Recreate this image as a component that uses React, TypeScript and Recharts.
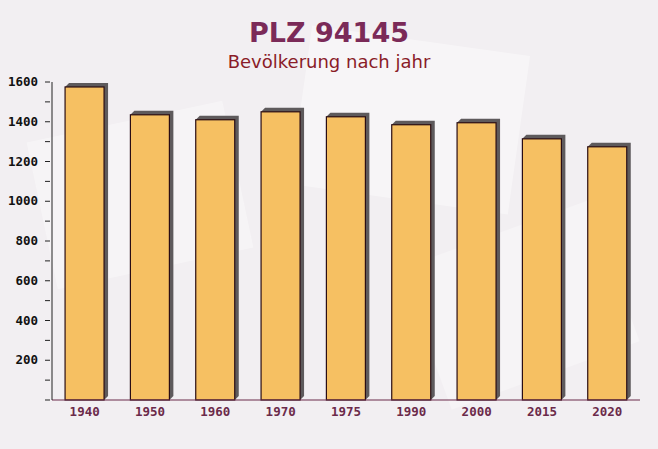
import React from 'react';
import { BarChart, Bar, XAxis, YAxis } from 'recharts';

const years = ['1940', '1950', '1960', '1970', '1975', '1990', '2000', '2015', '2020'];
const population = [1575, 1435, 1410, 1450, 1425, 1385, 1395, 1314, 1274];
const yTicks = [0, 100, 200, 300, 400, 500, 600, 700, 800, 900, 1000, 1100, 1200, 1300, 1400, 1500, 1600];

const data = years.map((year, i) => ({ year, value: population[i] }));

const Bar3D = (props: any) => {
  const { x, y, width, height } = props;
  const d = 4;
  const shadow = `M${x},${y} L${x + d},${y - d} L${x + width + d},${y - d} L${x + width + d},${y + height - d} L${x + width},${y + height} Z`;
  return (
    <g>
      <path d={shadow} fill="#5e5a5c" />
      <rect x={x} y={y} width={width} height={height} fill="#f6c062" stroke="#2a0d14" strokeWidth={1.2} />
    </g>
  );
};

const YTick = (props: any) => {
  const { x, y, payload } = props;
  const major = payload.value % 200 === 0;
  return (
    <g>
      <line x1={x + 1} x2={x + 6} y1={y} y2={y} stroke="#222" />
      {major && payload.value > 0 && (
        <text x={x - 6} y={y} dy={4} textAnchor="end" fontFamily="DejaVu Sans Mono" fontWeight="bold" fontSize={12.5} fill="#111">
          {payload.value}
        </text>
      )}
    </g>
  );
};

const App: React.FC = () => {
  return (
    <div style={{ position: 'absolute', left: 0, top: 0, width: 658, height: 449, background: '#f2eff2', overflow: 'hidden' }}>
      <div style={{ position: 'absolute', left: 40, top: 120, width: 200, height: 150, background: 'rgba(255,255,255,0.35)', transform: 'rotate(-12deg)' }} />
      <div style={{ position: 'absolute', left: 300, top: 40, width: 220, height: 160, background: 'rgba(255,255,255,0.4)', transform: 'rotate(8deg)' }} />
      <div style={{ position: 'absolute', left: 420, top: 230, width: 200, height: 150, background: 'rgba(255,255,255,0.3)', transform: 'rotate(-20deg)' }} />
      <div style={{ position: 'absolute', left: 0, top: 17, width: 658, textAlign: 'center', fontFamily: 'DejaVu Sans', fontWeight: 'bold', fontSize: 27, color: '#7b2a58' }}>
        PLZ 94145
      </div>
      <div style={{ position: 'absolute', left: 0, top: 51, width: 658, textAlign: 'center', fontFamily: 'DejaVu Sans', fontSize: 18, color: '#8a1c28' }}>
        Bevölkerung nach jahr
      </div>
      <div style={{ position: 'absolute', left: 0, top: 0 }}>
        <BarChart width={658} height={449} data={data} margin={{ top: 82, right: 18, bottom: 0, left: 0 }} barCategoryGap="20%">
          <XAxis
            dataKey="year"
            height={49}
            axisLine={{ stroke: '#6b2a4a' }}
            tickLine={false}
            tick={{ fontFamily: 'DejaVu Sans Mono', fontWeight: 'bold', fontSize: 12.5, fill: '#6b2a4a' }}
            tickMargin={1}
          />
          <YAxis
            width={52}
            domain={[0, 1600]}
            ticks={yTicks}
            interval={0}
            axisLine={{ stroke: '#222' }}
            tickLine={false}
            tick={<YTick />}
          />
          <Bar dataKey="value" shape={<Bar3D />} isAnimationActive={false} />
        </BarChart>
      </div>
    </div>
  );
};

export default App;
